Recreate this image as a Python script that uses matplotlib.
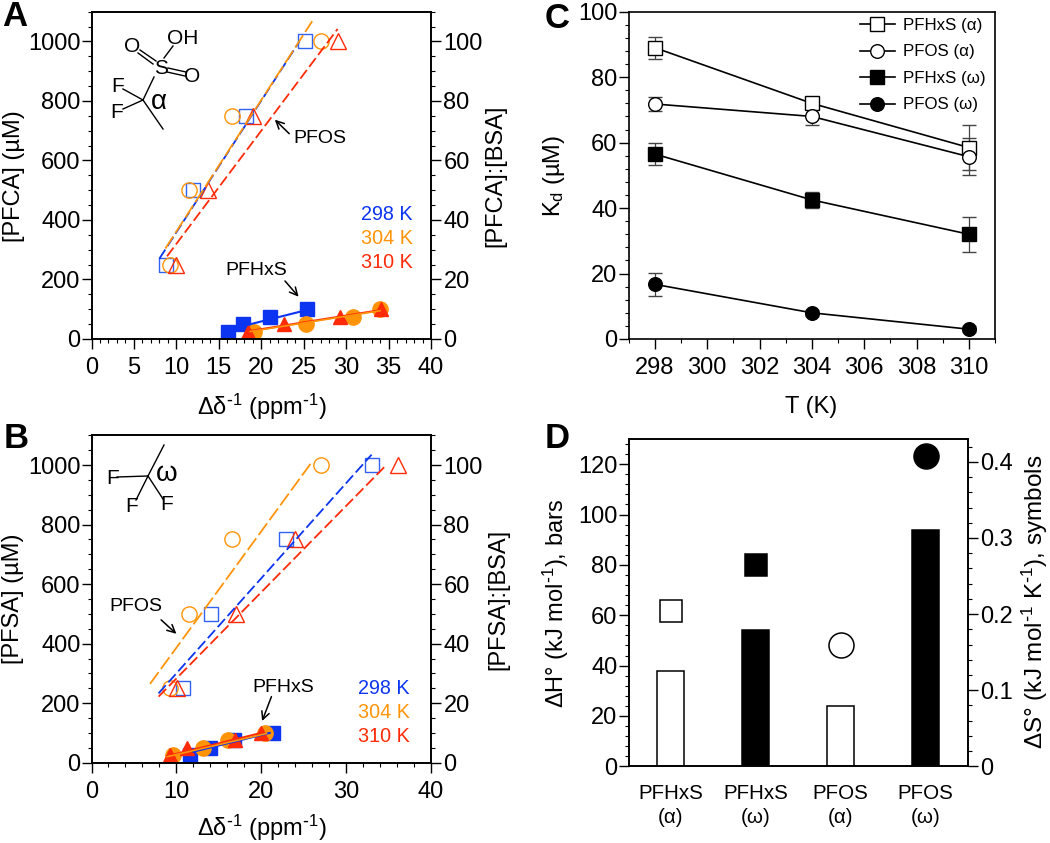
import numpy as np
import matplotlib
matplotlib.use("Agg")
import matplotlib.pyplot as plt
from matplotlib.ticker import MultipleLocator

plt.rcParams['font.family'] = ['Liberation Sans', 'DejaVu Sans']
plt.rcParams['mathtext.default'] = 'regular'
plt.rcParams['axes.linewidth'] = 1.2

W, H = 1050, 843
BLUE, ORANGE, RED = '#0b35f0', '#ff9408', '#ff2a08'
BLUE_L = '#2f62f5'

# panel A, PFCA titration
conc_open = [1000, 750, 500, 250]
conc_fill = [100, 75, 50, 25]
a_open_298 = [25.2, 18.2, 12.0, 8.8]
a_open_304 = [27.0, 16.5, 11.5, 9.3]
a_open_310 = [29.1, 19.05, 13.7, 10.0]
a_fit_open_298 = ([8.0, 24.5], [270, 1000])
a_fit_open_304 = ([8.7, 26.0], [304, 1068])
a_fit_open_310 = ([8.9, 29.0], [278, 1042])
a_fill_298 = [25.4, 21.0, 17.8, 16.1]
a_fill_304 = [34.0, 30.8, 25.3, 19.1]
a_fill_310 = [34.1, 29.3, 22.7, 18.4]
a_fit_fill_298 = ([17.5, 25.3], [41, 97])
a_fit_fill_304 = ([18.7, 34.0], [25, 95])
a_fit_fill_310 = ([18.7, 34.0], [27, 97])

# panel B, PFSA titration
b_open_298 = [33.0, 22.9, 14.05, 10.75]
b_open_304 = [27.0, 16.5, 11.5, 9.3]
b_open_310 = [36.1, 24.0, 17.0, 10.1]
b_fit_open_298 = ([7.9, 33.0], [233, 1035])
b_fit_open_304 = ([6.9, 25.8], [265, 1004])
b_fit_open_310 = ([7.9, 34.7], [222, 999])
b_fill_298 = [21.4, 16.8, 14.0, 11.6]
b_fill_304 = [20.5, 16.1, 13.1, 9.6]
b_fill_310 = [20.0, 16.9, 11.2, 9.2]
b_fit_fill_298 = ([12.0, 21.0], [37, 100])
b_fit_fill_304 = ([8.9, 20.6], [20, 98])
b_fit_fill_310 = ([8.9, 20.0], [22, 100])

# panel C, Kd vs T
temps = [298, 304, 310]
kd_hx_a = [89, 72, 58.5]
kd_hx_a_err = [3.3, 1.5, 7.0]
kd_os_a = [71.8, 68, 55.7]
kd_os_a_err = [2.0, 2.5, 5.7]
kd_hx_w = [56.5, 42.5, 32]
kd_hx_w_err = [3.3, 2.5, 5.3]
kd_os_w = [16.7, 8, 3]
kd_os_w_err = [3.5, 1.0, 1.0]

# panel D, thermodynamics
d_labels = ['PFHxS\n(α)', 'PFHxS\n(ω)', 'PFOS\n(α)', 'PFOS\n(ω)']
d_dh = [38, 54, 24, 94]
d_ds = [0.204, 0.264, 0.159, 0.408]

fig = plt.figure(figsize=(W / 100, H / 100), dpi=100)


def new_axes(left, right, top, bottom):
    return fig.add_axes([left / W, 1 - bottom / H, (right - left) / W, (bottom - top) / H])


def style(ax, size=17, pad=1):
    ax.tick_params(which='major', length=7, width=1.0, labelsize=size, pad=pad)
    ax.tick_params(which='minor', length=3, width=0.8)


def titration_axes(left, right, top, bottom, xstep, xminor):
    ax = new_axes(left, right, top, bottom)
    ax.set_xlim(0, 40)
    ax.set_ylim(0, 1100)
    ax.xaxis.set_major_locator(MultipleLocator(xstep))
    ax.xaxis.set_minor_locator(MultipleLocator(xminor))
    ax.yaxis.set_major_locator(MultipleLocator(200))
    ax.yaxis.set_minor_locator(MultipleLocator(50))
    style(ax)
    ax.tick_params(axis='x', which='major', pad=6)
    ax2 = ax.twinx()
    ax2.set_ylim(0, 110)
    ax2.yaxis.set_major_locator(MultipleLocator(20))
    ax2.yaxis.set_minor_locator(MultipleLocator(5))
    style(ax2, pad=2)
    return ax


def draw_open(ax, x298, x304, x310, f298, f304, f310):
    ax.plot(x298, conc_open, ls='none', marker='s', ms=9.6, mfc='none', mec=BLUE_L, mew=1, clip_on=False)
    ax.plot(x304, conc_open, ls='none', marker='o', ms=11, mfc='none', mec=ORANGE, mew=1, clip_on=False)
    ax.plot(x310, conc_open, ls='none', marker='^', ms=11, mfc='none', mec=RED, mew=1, clip_on=False)
    ax.plot(*f298, color=BLUE, lw=1.3, dashes=(6, 2.2))
    ax.plot(*f310, color=RED, lw=1.3, dashes=(6, 2.2))
    ax.plot(*f304, color=ORANGE, lw=1.3, dashes=(8, 2.2))


def draw_fill(ax, x298, x304, x310, f298, f304, f310):
    ax.plot(x298, conc_fill, ls='none', marker='s', ms=10, color=BLUE, clip_on=True)
    ax.plot(x304, conc_fill, ls='none', marker='o', ms=11, color=ORANGE, clip_on=True)
    ax.plot(x310, conc_fill, ls='none', marker='^', ms=10.5, color=RED, clip_on=True)
    ax.plot(*f298, color=BLUE, lw=1.5)
    ax.plot(*f310, color=RED, lw=1.5)
    ax.plot(*f304, color=ORANGE, lw=1.2)


def note(ax, label, xy, tail, text_xy):
    ax.annotate('', xy=xy, xytext=tail,
                arrowprops=dict(arrowstyle='->', lw=1.1, color='black', shrinkA=0, shrinkB=0, mutation_scale=14))
    ax.text(text_xy[0], text_xy[1], label, fontsize=14, ha='center', va='center')


# A
axA = titration_axes(91.5, 431, 11.7, 339, 5, 1)
draw_open(axA, a_open_298, a_open_304, a_open_310, a_fit_open_298, a_fit_open_304, a_fit_open_310)
draw_fill(axA, a_fill_298, a_fill_304, a_fill_310, a_fit_fill_298, a_fit_fill_304, a_fit_fill_310)
note(axA, 'PFOS', (21.6, 737), (23.3, 690), (26.9, 674))
note(axA, 'PFHxS', (24.4, 142), (22.8, 195), (19.45, 229))

# B
axB = titration_axes(91.5, 431, 435.3, 762.7, 10, 2)
draw_open(axB, b_open_298, b_open_304, b_open_310, b_fit_open_298, b_fit_open_304, b_fit_open_310)
draw_fill(axB, b_fill_298, b_fill_304, b_fill_310, b_fit_fill_298, b_fit_fill_304, b_fit_fill_310)
note(axB, 'PFOS', (10.0, 433), (8.2, 480), (5.2, 525))
note(axB, 'PFHxS', (20.1, 140), (21.2, 222), (22.6, 252))

# C
axC = new_axes(628.7, 995, 11.7, 339)
axC.set_xlim(297, 311)
axC.set_ylim(0, 100)
axC.xaxis.set_major_locator(MultipleLocator(2))
axC.xaxis.set_minor_locator(MultipleLocator(1))
axC.yaxis.set_major_locator(MultipleLocator(20))
axC.yaxis.set_minor_locator(MultipleLocator(4))
style(axC)
axC.tick_params(axis='x', which='major', pad=6)
series = [
    (kd_hx_a, kd_hx_a_err, 's', 'white', 'PFHxS (α)'),
    (kd_os_a, kd_os_a_err, 'o', 'white', 'PFOS (α)'),
    (kd_hx_w, kd_hx_w_err, 's', 'black', 'PFHxS (ω)'),
    (kd_os_w, kd_os_w_err, 'o', 'black', 'PFOS (ω)'),
]
for vals, errs, mk, fc, lab in series:
    axC.errorbar(temps, vals, yerr=errs, color='black', ecolor='#444444', elinewidth=0.9,
                 capsize=4.8, capthick=0.9, lw=1.2, marker=mk, ms=9.8, mfc=fc, mec='black', mew=1, label=lab)
handles, labels = axC.get_legend_handles_labels()
handles = [h[0] for h in handles]
axC.legend(handles, labels, loc='upper right', bbox_to_anchor=(0.975, 0.981), frameon=False, fontsize=12.2,
           handlelength=2.05, handletextpad=0.5, labelspacing=0.68, borderpad=0, borderaxespad=0)

# D
axD = new_axes(628.7, 968, 439, 766.3)
axD.set_xlim(-0.494, 3.498)
axD.set_ylim(0, 130)
xs = np.arange(len(d_labels))
axD.bar(xs, d_dh, width=0.314, color=['white', 'black', 'white', 'black'], edgecolor='black', linewidth=1.1)
axD.set_xticks(xs)
axD.set_xticklabels(d_labels, linespacing=1.3)
axD.yaxis.set_major_locator(MultipleLocator(20))
axD.yaxis.set_minor_locator(MultipleLocator(4))
style(axD)
axD.tick_params(axis='x', length=0, labelsize=14.8, pad=13)
axD2 = axD.twinx()
axD2.set_ylim(0, 0.43)
axD2.yaxis.set_major_locator(MultipleLocator(0.1))
axD2.yaxis.set_minor_locator(MultipleLocator(0.02))
axD2.set_yticks([0, 0.1, 0.2, 0.3, 0.4])
axD2.set_yticklabels(['0', '0.1', '0.2', '0.3', '0.4'])
style(axD2, pad=2)
for x, v, mk, fc, ms in zip(xs, d_ds, ['s', 's', 'o', 'o'], ['white', 'black', 'white', 'black'], [16, 16, 18, 18]):
    axD2.plot(x, v, marker=mk, ms=ms, mfc=fc, mec='black', mew=1.1, ls='none')

# overlay in picture pixels, for labels and the chemical sketches
ov = fig.add_axes([0, 0, 1, 1], zorder=10)
ov.set_xlim(0, W)
ov.set_ylim(H, 0)
ov.axis('off')
ov.patch.set_alpha(0)


def t(x, y, s, size=17, rot=0, **kw):
    ov.text(x, y, s, fontsize=size, rotation=rot, ha='center', va='center', **kw)


sup = r'$^{\mathregular{\text{-}1}}$'
dd = 'Δδ' + sup + ' (ppm' + sup + ')'
t(15, 17, 'A', 25, fontweight='bold')
t(16, 438, 'B', 25, fontweight='bold')
t(557, 18, 'C', 25, fontweight='bold')
t(557, 438, 'D', 25, fontweight='bold')

t(262, 407, dd)
t(262, 828, dd)
t(14, 176, '[PFCA] (µM)', rot=90)
t(495, 176, '[PFCA]:[BSA]', rot=90)
t(13, 599, '[PFSA] (µM)', rot=90)
t(498, 599, '[PFSA]:[BSA]', rot=90)
t(554, 176, 'K$_{d}$ (µM)', rot=90)
t(811, 407, 'T (K)')
t(556, 603, 'ΔH° (kJ mol' + sup + '), bars', rot=90)
t(1035, 602, 'ΔS° (kJ mol' + sup + ' K' + sup + '), symbols', 17.5, rot=90)

for y, lab, col in [(215, '298 K', BLUE), (239, '304 K', ORANGE), (263, '310 K', RED)]:
    t(387, y, lab, 14.2, color=col)
for y, lab, col in [(688, '298 K', BLUE), (712, '304 K', ORANGE), (737, '310 K', RED)]:
    t(384, y, lab, 14.2, color=col)

# alpha sketch
bonds_a = [((138, 53), (153, 64)), ((140, 50), (156, 61)), ((164, 58), (173, 46)),
           ((168, 68), (186, 72)), ((167, 72), (185, 76)), ((154, 77), (143, 100)),
           ((143, 100), (123, 89)), ((143, 100), (123, 109)), ((143, 100), (163, 129))]
for p, q in bonds_a:
    ov.plot([p[0], q[0]], [p[1], q[1]], color='black', lw=1.0)
t(132, 47, 'O', 15)
t(183, 38, 'OH', 15)
t(161, 68, 'S', 15)
t(192, 76, 'O', 15)
t(118, 86, 'F', 15)
t(117, 112, 'F', 15)
t(159, 102, 'α', 20)

# omega sketch
bonds_w = [((148, 476), (164, 445)), ((148, 476), (117, 477)), ((148, 476), (136, 500)), ((148, 476), (163, 499))]
for p, q in bonds_w:
    ov.plot([p[0], q[0]], [p[1], q[1]], color='black', lw=1.0)
t(113, 478, 'F', 15)
t(132, 507, 'F', 15)
t(167, 505, 'F', 15)
t(167, 474, 'ω', 20)

fig.savefig('out.png', dpi=100)
